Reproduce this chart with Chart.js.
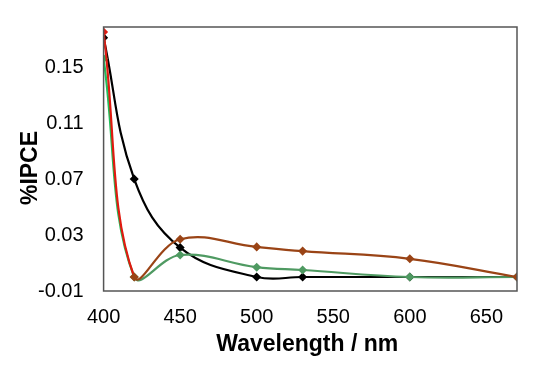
<!DOCTYPE html>
<html>
<head>
<meta charset="utf-8">
<script src="https://cdn.jsdelivr.net/npm/chart.js@4"></script>
<style>
html,body{margin:0;padding:0;background:#fff;}
#wrap{width:550px;height:370px;position:relative;}
</style>
</head>
<body>
<div id="wrap"><canvas id="c" width="550" height="370"></canvas></div>
<script>
const wavelengths = [400, 420, 450, 500, 530, 600, 670];
const blackSeries = [0.171, 0.070, 0.021, 0.000, 0.000, 0.000, 0.000];
const redSeries   = [0.175, 0.000, 0.027, 0.0215, 0.0185, 0.013, 0.000];
const greenSeries = [0.156, 0.000, 0.0157, 0.007, 0.005, 0.000, 0.000];
const yTicks = [-0.01, 0.03, 0.07, 0.11, 0.15];
const xTicks = [400, 450, 500, 550, 600, 650];
const xTitle = 'Wavelength / nm';
const yTitle = '%IPCE';

const toPts = arr => wavelengths.map((x, i) => ({x: x, y: arr[i]}));

const decor = {
  id: 'decor',
  afterDraw(chart) {
    const {ctx, chartArea: a} = chart;
    ctx.save();
    ctx.strokeStyle = '#555';
    ctx.lineWidth = 1.5;
    ctx.strokeRect(a.left, a.top, a.right - a.left, a.bottom - a.top);
    ctx.fillStyle = '#000';
    ctx.font = 'bold 23px "Liberation Sans"';
    ctx.textAlign = 'center';
    ctx.textBaseline = 'middle';
    ctx.fillText(xTitle, (a.left + a.right) / 2 - 3, 345);
    ctx.translate(31, 168);
    ctx.rotate(-Math.PI / 2);
    ctx.fillText(yTitle, 0, 0);
    ctx.restore();
  }
};

function ds(label, data, mainColor, firstColor, order) {
  return {
    label: label,
    data: toPts(data),
    borderColor: mainColor,
    backgroundColor: mainColor,
    pointBackgroundColor: ctx => ctx.dataIndex === 0 ? firstColor : mainColor,
    pointBorderColor: ctx => ctx.dataIndex === 0 ? firstColor : mainColor,
    segment: { borderColor: c => c.p0DataIndex === 0 ? firstColor : mainColor },
    borderWidth: 2.2,
    pointStyle: 'rectRot',
    pointRadius: 3,
    tension: 0.4,
    fill: false,
    order: order
  };
}

new Chart(document.getElementById('c'), {
  type: 'line',
  data: {
    datasets: [
      ds('black', blackSeries, '#000000', '#000000', 3),
      ds('green', greenSeries, '#4f9a62', '#1fbf5a', 2),
      ds('red', redSeries, '#9a4416', '#e01a10', 1)
    ]
  },
  options: {
    responsive: false,
    animation: false,
    layout: { padding: { left: 18, right: 33, top: 27, bottom: 27 } },
    plugins: { legend: { display: false }, tooltip: { enabled: false } },
    scales: {
      x: {
        type: 'linear',
        min: 400, max: 670,
        afterBuildTicks: s => { s.ticks = xTicks.map(v => ({value: v})); },
        grid: { display: false, drawTicks: false },
        border: { display: false },
        ticks: { color: '#000', padding: 14, font: { family: 'Liberation Sans', size: 20 }, maxRotation: 0 }
      },
      y: {
        type: 'linear',
        min: -0.01, max: 0.1786,
        afterBuildTicks: s => { s.ticks = yTicks.map(v => ({value: v})); },
        afterFit: s => { s.paddingTop = 0; },
        grid: { display: false, drawTicks: false },
        border: { display: false },
        ticks: { color: '#000', padding: 20, font: { family: 'Liberation Sans', size: 20 },
                 callback: v => (Math.round(v * 100) / 100).toFixed(2) }
      }
    }
  },
  plugins: [decor]
});
</script>
</body>
</html>
